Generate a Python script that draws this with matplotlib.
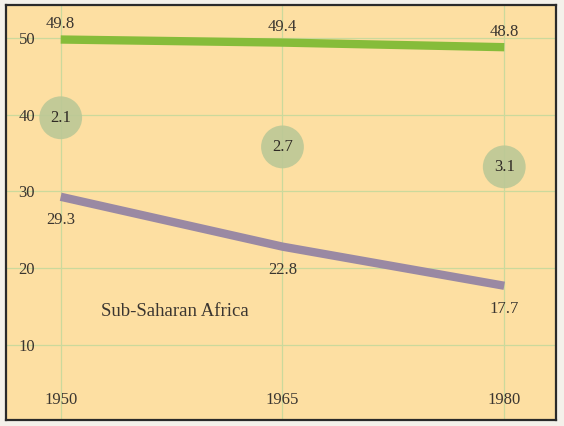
import matplotlib.pyplot as plt

# data
years = [1950, 1965, 1980]
birth_rate = [49.8, 49.4, 48.8]
death_rate = [29.3, 22.8, 17.7]
growth_rate = [2.1, 2.7, 3.1]
growth_pos = [39.6, 35.8, 33.2]   # where the growth bubbles sit
region = "Sub-Saharan Africa"
yticks = [10, 20, 30, 40, 50]

plt.rcParams['font.family'] = ['Liberation Serif', 'DejaVu Serif']

fig = plt.figure(figsize=(5.64, 4.26), dpi=100)
fig.patch.set_facecolor('#f4f1ea')
ax = fig.add_axes([6 / 564, 6 / 426, 550 / 564, 415 / 426])
ax.set_facecolor('#fddfa2')

ax.set_xlim(1946.3, 1983.5)
ax.set_ylim(0.2, 54.3)

# grid
ax.set_xticks(years)
ax.set_yticks(yticks)
ax.grid(True, color='#cbd99c', lw=0.9)
ax.set_axisbelow(True)
ax.tick_params(axis='y', direction='in', pad=-21, length=0, labelsize=12, labelcolor='#3a3530')
ax.tick_params(axis='x', direction='in', pad=-9, length=0, labelsize=12, labelcolor='#3a3530')
for lab in ax.get_xticklabels():
    lab.set_verticalalignment('bottom')

for sp in ax.spines.values():
    sp.set_color('#2a2a2a')
    sp.set_linewidth(1.6)

# lines
ax.plot(years, birth_rate, color='#86bc3a', lw=6, solid_capstyle='butt', zorder=3)
ax.plot(years, death_rate, color='#9a89a3', lw=6, solid_capstyle='butt', zorder=3)

# growth bubbles
ax.scatter(years, growth_pos, s=950, color='#bcc896', alpha=0.9, edgecolors='none', zorder=4)
for x, y, g in zip(years, growth_pos, growth_rate):
    ax.text(x, y, f"{g}", ha='center', va='center', fontsize=12, color='#2f2a25', zorder=5)

# value labels
for x, y in zip(years, birth_rate):
    ax.text(x, y + 1.0, f"{y}", ha='center', va='bottom', fontsize=12, color='#3a3530', zorder=5)
for x, y in zip(years, death_rate):
    ax.text(x, y - 2.0, f"{y}", ha='center', va='top', fontsize=12, color='#3a3530', zorder=5)

ax.text(1957.7, 14.3, region, ha='center', va='center', fontsize=13.5, color='#3a3530')

fig.savefig('out.png', dpi=100, facecolor=fig.get_facecolor())
